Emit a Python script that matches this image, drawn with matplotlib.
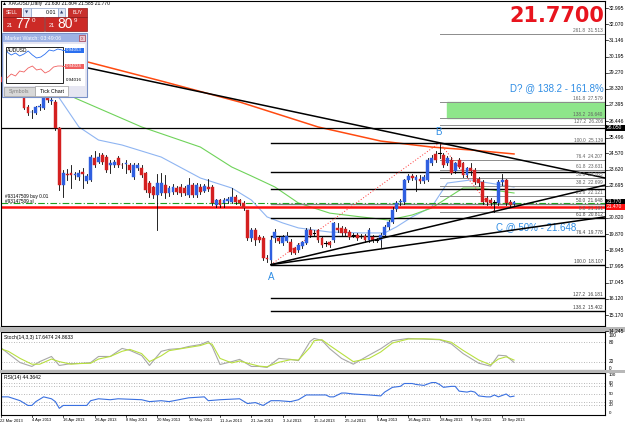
import matplotlib
matplotlib.use("Agg")
import matplotlib.pyplot as plt
from matplotlib.patches import Rectangle
import numpy as np

# ---------------- data ----------------
symbol_title = "XAGUSD,Daily  21.630 21.804 21.585 21.770"
last_price_text = "21.7700"

opens = [29.00, 28.70, 28.60, 28.75, 28.55, 28.40, 28.05, 27.26, 26.95, 26.92,
         27.25, 27.21, 27.90, 27.60, 27.56, 26.05, 22.74, 23.35, 23.43, 23.30,
         23.20, 23.50, 22.97, 23.03, 24.31, 24.10, 24.48, 24.36, 23.90, 23.90,
         24.30, 23.92, 23.95, 23.90, 23.20, 23.72, 23.72, 23.43, 22.85, 22.60,
         22.16, 22.27, 22.74, 22.27, 22.33, 22.56, 22.62, 22.56, 22.16, 22.74,
         22.16, 22.62, 22.40, 22.60, 22.60, 21.57, 21.86, 21.69, 21.80, 21.75,
         22.04, 21.86, 21.69, 21.28, 19.66, 20.13, 19.71, 19.66, 18.50, 18.38,
         19.66, 19.66, 19.36, 19.48, 19.45, 19.07, 18.96, 19.20, 19.36, 20.13,
         19.97, 20.13, 19.66, 19.35, 19.40, 19.54, 20.24, 20.24, 20.20, 20.01,
         19.80, 19.83, 19.75, 19.77, 19.54, 19.71, 19.55, 19.54, 19.83, 20.30,
         20.60, 21.35, 21.72, 21.75, 23.00, 23.26, 23.00, 23.10, 22.95, 23.05,
         24.00, 24.55, 24.60, 24.48, 24.00, 24.19, 23.55, 24.19, 24.00, 23.30,
         23.70, 23.60, 23.10, 22.90, 22.00, 21.86, 21.75, 21.70, 22.90, 23.05,
         21.72, 21.63]
highs = [29.20, 28.95, 28.90, 28.95, 28.75, 28.60, 28.15, 27.40, 27.10, 27.35,
         27.45, 28.10, 28.05, 27.90, 27.70, 26.10, 23.60, 23.65, 23.90, 23.50,
         23.60, 23.72, 23.40, 24.50, 24.72, 24.60, 24.60, 24.50, 24.19, 24.20,
         24.40, 24.00, 24.20, 24.00, 24.00, 24.00, 23.90, 23.50, 22.95, 22.70,
         23.40, 23.43, 23.30, 22.70, 22.80, 22.70, 22.80, 22.65, 23.15, 22.85,
         22.85, 22.80, 22.80, 23.10, 22.75, 21.95, 21.95, 22.00, 22.05, 22.56,
         22.15, 21.95, 21.80, 21.30, 20.25, 20.25, 19.85, 19.80, 18.65, 19.70,
         20.15, 19.80, 19.85, 20.00, 19.60, 19.15, 19.35, 19.50, 20.25, 20.30,
         20.10, 20.20, 19.75, 19.50, 19.50, 20.60, 20.53, 20.35, 20.30, 20.10,
         19.95, 19.95, 19.90, 19.90, 20.24, 19.85, 19.65, 19.95, 20.40, 20.70,
         21.45, 21.80, 21.90, 23.10, 23.40, 23.40, 23.30, 23.30, 23.30, 24.30,
         24.45, 24.70, 25.189, 24.60, 24.40, 24.35, 24.10, 24.30, 24.10, 23.80,
         24.00, 23.70, 23.20, 23.00, 22.10, 22.00, 21.85, 23.05, 23.40, 23.10,
         21.85, 21.804]
lows = [28.60, 28.45, 28.40, 28.50, 28.30, 27.95, 27.15, 26.80, 26.63, 26.85,
        27.10, 27.15, 27.55, 27.45, 25.95, 22.45, 22.04, 23.05, 22.56, 23.10,
        23.00, 22.56, 22.85, 22.95, 23.80, 24.00, 23.95, 23.50, 23.43, 23.80,
        23.80, 23.75, 23.45, 23.50, 23.10, 23.60, 23.20, 22.35, 22.04, 22.00,
        20.12, 22.15, 21.98, 22.10, 22.20, 22.20, 22.10, 22.15, 22.05, 22.05,
        22.05, 22.20, 22.30, 22.40, 21.60, 21.45, 21.45, 21.45, 21.70, 21.70,
        21.65, 21.55, 21.30, 19.55, 19.50, 19.25, 19.40, 18.38, 18.25, 18.107,
        19.40, 19.35, 19.25, 19.40, 18.75, 18.70, 18.85, 19.10, 19.30, 19.70,
        19.80, 19.45, 19.15, 19.20, 19.15, 19.45, 20.00, 19.85, 19.85, 19.60,
        19.70, 19.55, 19.65, 19.45, 19.45, 19.45, 19.40, 19.13, 19.75, 20.20,
        20.50, 21.25, 21.60, 21.65, 22.90, 23.05, 22.40, 22.85, 22.85, 22.95,
        23.90, 24.10, 24.30, 23.80, 23.90, 23.35, 23.45, 23.70, 23.20, 23.20,
        23.30, 22.80, 22.70, 21.65, 21.60, 21.55, 21.191, 21.60, 22.75, 21.60,
        21.50, 21.585]
closes = [28.70, 28.60, 28.75, 28.55, 28.40, 28.05, 27.21, 26.92, 27.00, 27.26,
          27.35, 27.97, 27.65, 27.70, 26.05, 22.74, 23.43, 23.30, 23.32, 23.35,
          23.43, 23.35, 23.26, 24.37, 23.90, 24.35, 24.07, 23.61, 24.00, 24.07,
          23.90, 23.88, 24.02, 23.60, 23.90, 23.90, 23.32, 22.45, 22.27, 22.16,
          22.85, 22.85, 22.27, 22.56, 22.62, 22.33, 22.27, 22.27, 22.74, 22.16,
          22.74, 22.33, 22.70, 22.50, 21.69, 21.86, 21.57, 21.86, 21.90, 22.04,
          21.75, 21.69, 21.40, 19.66, 20.13, 19.54, 19.54, 18.49, 18.45, 19.54,
          20.01, 19.48, 19.71, 19.77, 18.84, 18.78, 19.25, 19.40, 20.13, 19.83,
          19.95, 19.54, 19.25, 19.38, 19.25, 20.53, 20.13, 19.95, 19.95, 19.71,
          19.83, 19.66, 19.77, 19.54, 20.13, 19.54, 19.53, 19.83, 20.30, 20.60,
          21.30, 21.70, 21.80, 23.03, 23.26, 23.15, 23.20, 22.95, 23.20, 24.19,
          24.30, 24.19, 24.62, 23.90, 24.30, 23.43, 24.00, 23.80, 23.30, 23.70,
          23.55, 22.90, 22.85, 21.75, 21.75, 21.69, 21.72, 22.90, 23.05, 21.70,
          21.60, 21.77]

date_labels = ["22 Mar 2013", "4 Apr 2013", "16 Apr 2013", "26 Apr 2013", "8 May 2013",
               "20 May 2013", "30 May 2013", "11 Jun 2013", "21 Jun 2013", "3 Jul 2013",
               "15 Jul 2013", "25 Jul 2013", "6 Aug 2013", "16 Aug 2013", "28 Aug 2013",
               "9 Sep 2013", "19 Sep 2013"]
date_label_bars = [0, 8, 16, 24, 32, 40, 48, 56, 64, 72, 80, 88, 96, 104, 112, 120, 128]

# moving averages (read at sample bars)
ma_blue_bars = [15, 20, 25, 31, 41, 51, 59, 64, 68, 72, 76, 84, 92, 98, 101, 105, 110, 114, 120, 123, 131]
ma_blue_vals = [27.79, 26.11, 25.35, 25.06, 24.36, 23.14, 22.56, 21.86, 20.88, 20.53, 20.24,
                20.00, 19.95, 19.95, 20.30, 20.88, 21.46, 22.85, 23.03, 22.91, 22.62]
ma_green_bars = [19, 36, 51, 59, 64, 70, 76, 84, 92, 99, 105, 110, 118, 122, 131]
ma_green_vals = [27.79, 26.11, 24.94, 23.78, 23.26, 22.62, 21.69, 21.10, 20.88, 20.70,
                 20.99, 21.40, 22.56, 22.56, 22.27]
ma_orange_bars = [22, 41, 61, 81, 97, 110, 120, 131]
ma_orange_vals = [29.90, 28.78, 27.56, 26.11, 25.29, 24.94, 24.77, 24.54]

# trend lines (bar, price anchor pairs)
down_trend_bars = [0, 112]
down_trend_prices = [30.62, 25.19]
up_trend1_bars = [69, 131]
up_trend1_prices = [18.107, 21.47]
up_trend2_bars = [69, 131]
up_trend2_prices = [18.107, 20.125]

# Fibonacci A-B (black)
fib1_levels = ["0.0", "23.6", "38.2", "50.0", "61.8", "76.4", "100.0", "127.2", "138.2"]
fib1_prices = [25.189, 23.518, 22.484, 21.648, 20.812, 19.778, 18.107, 16.181, 15.402]
fib1_start_bar = 69
# Fibonacci C-B (grey)
fib2_levels = ["0.0", "23.6", "38.2", "50.0", "61.8", "76.4", "100.0", "127.2", "138.2", "161.8", "261.8"]
fib2_prices = [21.191, 22.121, 22.699, 23.165, 23.631, 24.207, 25.139, 26.206, 26.640, 27.579, 31.513]
fib2_start_bar = 112

point_A = (69, 18.107)
point_B = (112, 25.189)
point_C = (126, 21.191)

hline_black = 26.05
order_buy_price = 21.70
order_sl_price = 21.47
axis_prices = [32.995, 32.070, 31.146, 30.195, 29.270, 28.320, 27.395, 26.446, 25.496, 24.570,
               23.620, 22.695, 20.820, 19.870, 18.945, 17.995, 17.045, 16.120, 15.170, 14.245]

stoch_bars = [0, 2, 5, 8, 10, 13, 15, 18, 20, 23, 25, 28, 31, 33, 36, 38, 41, 43, 46, 48, 51, 53,
              54, 56, 59, 61, 64, 66, 68, 71, 74, 76, 79, 80, 82, 84, 87, 90, 94, 97, 100, 104,
              108, 112, 115, 118, 122, 125, 127, 129, 131]
stoch_main = [64, 45, 17, 5, 20, 36, 8, 14, 14, 17, 36, 36, 61, 55, 39, 8, 52, 58, 61, 67, 73, 83,
              67, 11, 20, 27, 5, 5, 2, 30, 27, 23, 83, 92, 86, 60, 30, 12, 40, 60, 85, 92,
              90, 88, 75, 45, 15, 6, 40, 38, 17.6]
stoch_signal = [60, 52, 30, 12, 12, 28, 20, 12, 14, 15, 28, 36, 52, 58, 45, 20, 38, 54, 60, 64, 70, 78,
                74, 30, 16, 22, 12, 6, 4, 18, 26, 25, 65, 85, 88, 70, 45, 20, 30, 50, 78, 90,
                91, 89, 80, 55, 25, 10, 28, 35, 24.9]

rsi_bars = [0, 2, 5, 7, 8, 9, 11, 13, 14, 15, 16, 22, 23, 25, 28, 30, 36, 38, 41, 43, 48, 52, 53, 56,
            61, 63, 65, 67, 69, 71, 74, 76, 78, 80, 83, 84, 85, 87, 88, 90, 94, 97, 98, 100, 102,
            103, 105, 106, 108, 110, 111, 112, 113, 115, 116, 117, 119, 120, 121, 122, 124, 125,
            126, 127, 129, 130, 131]
rsi_vals = [42.5, 42.5, 32.5, 20, 20, 30, 42.5, 37.5, 30, 12.5, 20, 20, 32.5, 37.5, 35, 37.5, 35,
            30, 32.5, 30, 40, 42.5, 32.5, 35, 37.5, 25, 27.5, 20, 32.5, 32.5, 30, 35, 47.5, 47.5,
            47.5, 42.5, 42.5, 52.5, 52.5, 50, 47.5, 45, 55, 67.5, 70, 77.5, 77.5, 75, 72.5, 80, 80,
            75, 67.5, 70, 70, 57.5, 55, 57.5, 55, 45, 42.5, 42.5, 47.5, 42.5, 50, 42.5, 44.36]

tick_blue = [52, 55, 53, 56, 54, 51, 55, 58, 57, 54, 50, 51, 49, 50]
tick_red = [78, 74, 76, 71, 72, 68, 66, 70, 69, 73, 71, 67, 66, 66]

# ---------------- helpers ----------------
W, H = 625, 426
fig = plt.figure(figsize=(W / 100, H / 100), dpi=100)
fig.patch.set_facecolor("white")
FONT = "Liberation Sans"


def ax_px(x0, y0, x1, y1, **kw):
    return fig.add_axes([x0 / W, 1 - y1 / H, (x1 - x0) / W, (y1 - y0) / H], **kw)


PX_PER_BAR = 3.92
X_LEFT, X_RIGHT = 1, 605


def bar_to_px(b):
    return 0.5 + PX_PER_BAR * b


xlim = ((X_LEFT - 0.5) / PX_PER_BAR, (X_RIGHT - 0.5) / PX_PER_BAR)

BLUE = "#2f5fe0"
RED = "#d42020"
TXT_BLUE = "#2f8de4"

# ---------------- main chart ----------------
ax = ax_px(X_LEFT, 1, X_RIGHT, 326)
ax.set_xlim(*xlim)
ax.set_ylim(14.54, 33.43)
ax.set_xticks([])
ax.set_yticks([])
for s in ax.spines.values():
    s.set_color("black")
    s.set_linewidth(0.8)

n = len(closes)
idx = np.arange(n)
for i in idx:
    o, h, l, c = opens[i], highs[i], lows[i], closes[i]
    ax.plot([i, i], [l, h], color="black", lw=0.6, zorder=3)
    col = BLUE if c >= o else RED
    lo, hi = min(o, c), max(o, c)
    if hi - lo < 0.04:
        ax.plot([i - 0.35, i + 0.35], [c, c], color="black", lw=0.8, zorder=4)
    else:
        ax.add_patch(Rectangle((i - 0.36, lo), 0.72, hi - lo, facecolor=col,
                               edgecolor=col, lw=0.3, zorder=4))

ax.plot(ma_blue_bars, ma_blue_vals, color="#8fb5f2", lw=0.8, zorder=2)
ax.plot(ma_green_bars, ma_green_vals, color="#6fd35a", lw=0.8, zorder=2)
ax.plot(ma_orange_bars, ma_orange_vals, color="#ff4a10", lw=1.1, zorder=2)

ax.axline((down_trend_bars[0], down_trend_prices[0]), (down_trend_bars[1], down_trend_prices[1]),
          color="black", lw=1.1, zorder=5)
for bx, py in ((up_trend1_bars, up_trend1_prices), (up_trend2_bars, up_trend2_prices)):
    slope = (py[1] - py[0]) / (bx[1] - bx[0])
    ax.plot([bx[0], xlim[1]], [py[0], py[0] + slope * (xlim[1] - bx[0])], color="black", lw=1.1, zorder=5)

# fib 1 (black)
for lev, pr in zip(fib1_levels, fib1_prices):
    col = "#808080" if lev == "50.0" else "black"
    ax.plot([fib1_start_bar, xlim[1]], [pr, pr], color=col, lw=1.0, zorder=2)
    if lev not in ("0.0", "23.6", "38.2"):
        ax.text(xlim[1] - 0.6, pr + 0.05, f"{lev}  {pr:.3f}", fontsize=3.4, family=FONT,
                color="#404040", ha="right", va="bottom", zorder=6)
# fib 2 (grey)
ax.add_patch(Rectangle((point_B[0] + 2, fib2_prices[8]), xlim[1] - point_B[0] - 2,
                       fib2_prices[9] - fib2_prices[8], facecolor="#8ee68a", edgecolor="#8ee68a",
                       zorder=1))
for lev, pr in zip(fib2_levels, fib2_prices):
    ax.plot([fib2_start_bar, xlim[1]], [pr, pr], color="#8c8c8c", lw=0.7, zorder=2)
    ax.text(xlim[1] - 0.6, pr + 0.05, f"{lev}  {pr:.3f}", fontsize=3.4, family=FONT,
            color="#606060", ha="right", va="bottom", zorder=6)

# zigzag dotted red
ax.plot([point_A[0], point_B[0], point_C[0]], [point_A[1], point_B[1], point_C[1]],
        color="#ff3030", lw=0.7, ls=(0, (1, 2)), zorder=3)

# horizontal lines
ax.axhline(hline_black, color="black", lw=0.9, zorder=2)
ax.axhline(order_buy_price, color="#20a020", lw=0.8, ls=(0, (6, 2, 1, 2)), zorder=2)
ax.axhline(order_sl_price, color="#ff1010", lw=1.8, zorder=2)
ax.text(1.2, order_buy_price + 0.28, "#93147509 buy 0.01", fontsize=3.4, family=FONT, color="black", zorder=6)
ax.text(1.2, order_buy_price - 0.02, "#93147509 sl", fontsize=3.4, family=FONT, color="black", zorder=6)

# labels
ax.text(point_A[0], point_A[1] - 0.45, "A", color=TXT_BLUE, fontsize=7, ha="center", va="top", family=FONT)
ax.text(point_B[0] - 0.3, point_B[1] + 0.35, "B", color=TXT_BLUE, fontsize=7, ha="center", va="bottom", family=FONT)
ax.text(126.5, 20.28, "C @ 50% - 21.648", color=TXT_BLUE, fontsize=7, ha="left", va="center", family=FONT)
ax.text(154.0, 28.36, "D? @ 138.2 - 161.8%", color=TXT_BLUE, fontsize=7, ha="right", va="center", family=FONT)
ax.text(154.0, 32.55, last_price_text, color="#e8141e", fontsize=15, fontweight="bold",
        ha="right", va="center", family="DejaVu Sans")

# ---------------- overlay (pixel coordinates) ----------------
ov = fig.add_axes([0, 0, 1, 1], zorder=20)
ov.set_xlim(0, W)
ov.set_ylim(H, 0)
ov.axis("off")
ov.patch.set_alpha(0)


def py_of(p):
    return 1 + (33.43 - p) / (33.43 - 14.54) * 325


# right price axis
for p in axis_prices:
    y = py_of(p)
    ov.plot([605, 608], [y, y], color="black", lw=0.5)
    ov.text(609, y, f"{p:.3f}", fontsize=3.6, family=FONT, va="center", ha="left")
for p, txt, bg in ((closes[-1], "21.770", "black"), (hline_black, "26.050", "black"), (order_sl_price, "21.470", "#ff1010")):
    y = py_of(p)
    ov.add_patch(Rectangle((606, y - 3), 19, 6, facecolor=bg, edgecolor=bg, lw=0))
    ov.text(607, y, txt, fontsize=3.6, family=FONT, va="center", ha="left", color="white")

# title
ov.text(2, 4, "\u25b2 " + symbol_title, fontsize=3.6, family=FONT, va="center", ha="left")

# one-click trading panel
ov.add_patch(Rectangle((3, 8), 18, 9, facecolor="#c8302c", edgecolor="#8a1a1a", lw=0.5))
ov.text(12, 12.5, "SELL", fontsize=3.6, color="white", ha="center", va="center", family=FONT)
ov.add_patch(Rectangle((23, 8), 8, 9, facecolor="#dfe6f4", edgecolor="#8aa0c8", lw=0.5))
ov.text(27, 12.5, "\u25bc", fontsize=3, color="#304070", ha="center", va="center")
ov.add_patch(Rectangle((31, 8), 27, 9, facecolor="white", edgecolor="#8aa0c8", lw=0.5))
ov.text(56, 12.5, "0.01", fontsize=3.8, color="black", ha="right", va="center", family=FONT)
ov.add_patch(Rectangle((58, 8), 7, 9, facecolor="#dfe6f4", edgecolor="#8aa0c8", lw=0.5))
ov.text(61.5, 12.5, "\u25b2", fontsize=3, color="#304070", ha="center", va="center")
ov.add_patch(Rectangle((68, 8), 19, 9, facecolor="#c8302c", edgecolor="#8a1a1a", lw=0.5))
ov.text(77.5, 12.5, "BUY", fontsize=3.6, color="white", ha="center", va="center", family=FONT)
for x0, big, sup in ((3, "77", "0"), (45, "80", "9")):
    ov.add_patch(Rectangle((x0, 17), 42 if x0 == 45 else 41, 14, facecolor="#cc2a26", edgecolor="#8a1a1a", lw=0.5))
    ov.text(x0 + 4, 27, "21", fontsize=4, color="white", ha="left", va="baseline", family=FONT)
    ov.text(x0 + 12, 28.5, big, fontsize=10, color="white", ha="left", va="baseline", family=FONT)
    ov.text(x0 + 29, 22, sup, fontsize=4.5, color="white", ha="left", va="baseline", family=FONT)

# market watch window
ov.add_patch(Rectangle((2, 33), 85, 64, facecolor="#e6e6f2", edgecolor="#7890c8", lw=0.8))
ov.add_patch(Rectangle((3, 34), 83, 8, facecolor="#9db2e4", edgecolor="none"))
ov.text(5, 38, "Market Watch: 03:49:06", fontsize=3.8, color="white", ha="left", va="center", family=FONT)
ov.add_patch(Rectangle((79, 35), 6, 6, facecolor="#e8c8d0", edgecolor="#b04050", lw=0.5))
ov.text(82, 38.2, "x", fontsize=3.5, color="#b04050", ha="center", va="center", family=FONT)
ov.add_patch(Rectangle((4, 44), 81, 42, facecolor="white", edgecolor="none"))
ov.add_patch(Rectangle((6, 47), 57, 36, facecolor="white", edgecolor="black", lw=0.6))
ov.text(7, 50, "AUDUSD", fontsize=3.5, color="black", ha="left", va="center", family=FONT)
tx = np.linspace(7, 62, len(tick_blue))
ov.plot(tx, tick_blue, color="#2a6ff0", lw=0.6)
ov.plot(tx, tick_red, color="#f06060", lw=0.6)
ov.plot([62, 65], [tick_blue[-1], tick_blue[-1]], color="#2a6ff0", lw=0.6)
ov.plot([62, 65], [tick_red[-1], tick_red[-1]], color="#f06060", lw=0.6)
ov.add_patch(Rectangle((65, tick_blue[-1] - 2.5), 19, 5, facecolor="#2a6ff0", edgecolor="none"))
ov.text(66, tick_blue[-1], "0.94053", fontsize=3.2, color="white", ha="left", va="center", family=FONT)
ov.add_patch(Rectangle((65, tick_red[-1] - 2.5), 19, 5, facecolor="#f06060", edgecolor="none"))
ov.text(66, tick_red[-1], "0.94024", fontsize=3.2, color="white", ha="left", va="center", family=FONT)
ov.text(66, 80, "0.94016", fontsize=3.2, color="black", ha="left", va="center", family=FONT)
ov.add_patch(Rectangle((4, 87), 31, 9, facecolor="#d8d8d8", edgecolor="#a0a0a0", lw=0.5))
ov.text(19.5, 91.5, "Symbols", fontsize=3.8, color="#808080", ha="center", va="center", family=FONT)
ov.add_patch(Rectangle((35, 86), 33, 10, facecolor="white", edgecolor="#a0a0a0", lw=0.5))
ov.text(51.5, 91.5, "Tick Chart", fontsize=3.8, color="black", ha="center", va="center", family=FONT)

# separators
ov.add_patch(Rectangle((0, 327), 625, 5, facecolor="#b8b8b8", edgecolor="none"))
ov.add_patch(Rectangle((0, 370), 625, 3, facecolor="#b8b8b8", edgecolor="none"))

# ---------------- stochastic ----------------
ax_s = ax_px(X_LEFT, 332, X_RIGHT, 370)
ax_s.set_xlim(*xlim)
ax_s.set_ylim(-6, 112)
ax_s.set_xticks([]); ax_s.set_yticks([])
for s in ax_s.spines.values():
    s.set_linewidth(0.8)
for lv in (80, 20):
    ax_s.axhline(lv, color="#a0a0a0", lw=0.6, ls=(0, (1, 2)))
ax_s.plot(stoch_bars, stoch_main, color="#a8a8a8", lw=0.8)
ax_s.plot(stoch_bars, stoch_signal, color="#b8e040", lw=0.8)
ax_s.text(1, 104, "Stoch(14,3,3) 17.6474 24.8633", fontsize=3.6, family=FONT, va="top")
for lv in (100, 80, 20, 0):
    y = 370 - (lv + 6) / 118 * 38
    ov.text(609, y, str(lv), fontsize=3.4, family=FONT, va="center")

# ---------------- RSI ----------------
ax_r = ax_px(X_LEFT, 373, X_RIGHT, 415)
ax_r.set_xlim(*xlim)
ax_r.set_ylim(-5, 105)
ax_r.set_xticks([]); ax_r.set_yticks([])
for s in ax_r.spines.values():
    s.set_linewidth(0.8)
for lv in (80, 70, 50, 30, 20):
    ax_r.axhline(lv, color="#a0a0a0", lw=0.6, ls=(0, (1, 2)))
ax_r.plot(rsi_bars, rsi_vals, color="#3a70e0", lw=0.8)
ax_r.text(1, 101, "RSI(14) 44.3642", fontsize=3.6, family=FONT, va="top")
for lv in (100, 80, 70, 50, 30, 20, 0):
    y = 415 - (lv + 5) / 110 * 42
    ov.text(609, y, str(lv), fontsize=3.2, family=FONT, va="center")

# dates
for b, lab in zip(date_label_bars, date_labels):
    x = bar_to_px(b)
    ov.plot([x, x], [415, 417], color="black", lw=0.5)
    ov.text(x, 420.5, lab, fontsize=2.9, family=FONT, va="center", ha="left")

fig.savefig("out.png", dpi=100)
